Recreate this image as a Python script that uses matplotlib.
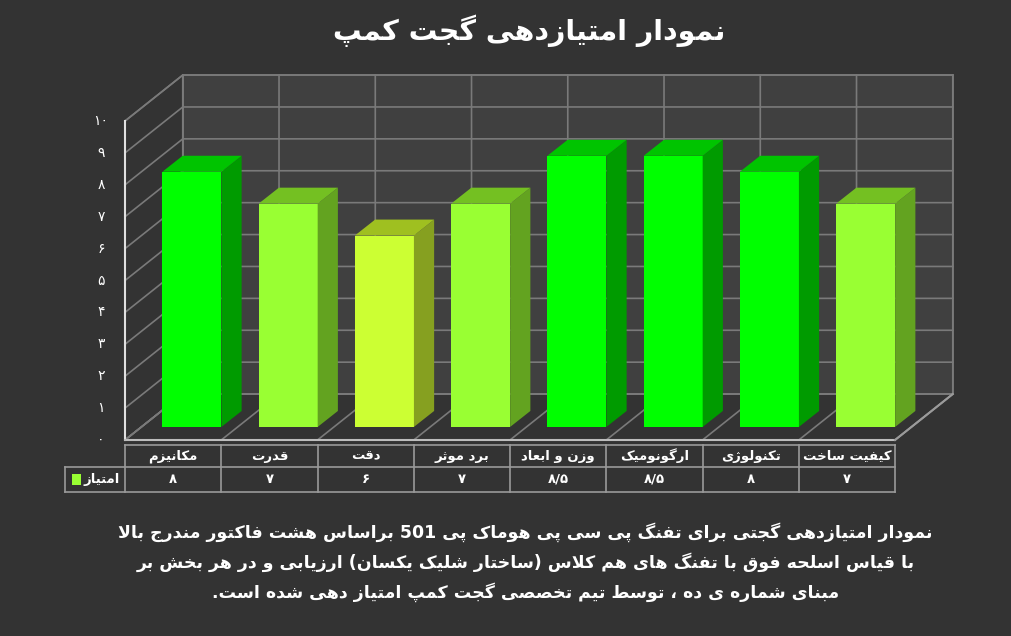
import matplotlib
matplotlib.use("Agg")
import matplotlib.pyplot as plt
from matplotlib.patches import Polygon
import re

# ---------- data ----------
categories = ["مکانیزم", "قدرت", "دقت", "برد موثر", "وزن و ابعاد", "ارگونومیک", "تکنولوژی", "کیفیت ساخت"]
values = [8, 7, 6, 7, 8.5, 8.5, 8, 7]
value_labels = ["۸", "۷", "۶", "۷", "۸/۵", "۸/۵", "۸", "۷"]
y_ticks = [0, 1, 2, 3, 4, 5, 6, 7, 8, 9, 10]
y_tick_labels = ["۰", "۱", "۲", "۳", "۴", "۵", "۶", "۷", "۸", "۹", "۱۰"]
series_name = "امتیاز"
title = "نمودار امتیازدهی گجت کمپ"
caption = ["نمودار امتیازدهی گجتی برای تفنگ پی سی پی هوماک پی 501 براساس هشت فاکتور مندرج بالا",
           "با قیاس اسلحه فوق با تفنگ های هم کلاس (ساختار شلیک یکسان) ارزیابی و در هر بخش بر",
           "مبنای شماره ی ده ، توسط تیم تخصصی گجت کمپ امتیاز دهی شده است."]

# ---------- minimal Persian shaping ----------
F = {  # iso, fin, ini, med
 'ء':(0xFE80,), 'آ':(0xFE81,0xFE82), 'أ':(0xFE83,0xFE84), 'ؤ':(0xFE85,0xFE86), 'إ':(0xFE87,0xFE88),
 'ئ':(0xFE89,0xFE8A,0xFE8B,0xFE8C), 'ا':(0xFE8D,0xFE8E), 'ب':(0xFE8F,0xFE90,0xFE91,0xFE92),
 'ة':(0xFE93,0xFE94), 'ت':(0xFE95,0xFE96,0xFE97,0xFE98), 'ث':(0xFE99,0xFE9A,0xFE9B,0xFE9C),
 'ج':(0xFE9D,0xFE9E,0xFE9F,0xFEA0), 'ح':(0xFEA1,0xFEA2,0xFEA3,0xFEA4), 'خ':(0xFEA5,0xFEA6,0xFEA7,0xFEA8),
 'د':(0xFEA9,0xFEAA), 'ذ':(0xFEAB,0xFEAC), 'ر':(0xFEAD,0xFEAE), 'ز':(0xFEAF,0xFEB0),
 'س':(0xFEB1,0xFEB2,0xFEB3,0xFEB4), 'ش':(0xFEB5,0xFEB6,0xFEB7,0xFEB8), 'ص':(0xFEB9,0xFEBA,0xFEBB,0xFEBC),
 'ض':(0xFEBD,0xFEBE,0xFEBF,0xFEC0), 'ط':(0xFEC1,0xFEC2,0xFEC3,0xFEC4), 'ظ':(0xFEC5,0xFEC6,0xFEC7,0xFEC8),
 'ع':(0xFEC9,0xFECA,0xFECB,0xFECC), 'غ':(0xFECD,0xFECE,0xFECF,0xFED0), 'ف':(0xFED1,0xFED2,0xFED3,0xFED4),
 'ق':(0xFED5,0xFED6,0xFED7,0xFED8), 'ك':(0xFED9,0xFEDA,0xFEDB,0xFEDC), 'ل':(0xFEDD,0xFEDE,0xFEDF,0xFEE0),
 'م':(0xFEE1,0xFEE2,0xFEE3,0xFEE4), 'ن':(0xFEE5,0xFEE6,0xFEE7,0xFEE8), 'ه':(0xFEE9,0xFEEA,0xFEEB,0xFEEC),
 'و':(0xFEED,0xFEEE), 'ى':(0xFEEF,0xFEF0), 'ي':(0xFEF1,0xFEF2,0xFEF3,0xFEF4),
 'پ':(0xFB56,0xFB57,0xFB58,0xFB59), 'چ':(0xFB7A,0xFB7B,0xFB7C,0xFB7D), 'ژ':(0xFB8A,0xFB8B),
 'ک':(0xFB8E,0xFB8F,0xFB90,0xFB91), 'گ':(0xFB92,0xFB93,0xFB94,0xFB95), 'ی':(0xFBFC,0xFBFD,0xFBFE,0xFBFF),
}
ALEFS = {'ا': (0xFEFB, 0xFEFC), 'آ': (0xFEF5, 0xFEF6), 'أ': (0xFEF7, 0xFEF8), 'إ': (0xFEF9, 0xFEFA)}

def dual(c):
    return c in F and len(F[c]) == 4

def shape(s):
    out = []
    i = 0
    n = len(s)
    while i < n:
        c = s[i]
        if c not in F:
            out.append(c); i += 1; continue
        prev = s[i-1] if i > 0 else ''
        jp = dual(prev)
        if c == 'ل' and i + 1 < n and s[i+1] in ALEFS:
            out.append(chr(ALEFS[s[i+1]][1 if jp else 0])); i += 2; continue
        nxt = s[i+1] if i + 1 < n else ''
        jn = dual(c) and nxt in F
        f = F[c]
        if len(f) == 1:
            k = 0
        elif jp and jn:
            k = 3
        elif jp:
            k = 1
        elif jn:
            k = 2
        else:
            k = 0
        out.append(chr(f[k])); i += 1
    r = ''.join(out)[::-1]
    r = re.sub(r'[0-9۰-۹][0-9۰-۹/]*', lambda m: m.group(0)[::-1], r)
    r = r.translate(str.maketrans('()', ')('))
    return r

plt.rcParams['font.family'] = ['DejaVu Sans']

# ---------- geometry (data units) ----------
D, DY = 0.60, 1.44           # full depth offset
BX, BY = 0.20, 0.41          # bar front offset into depth
BW = 0.613                   # bar width
SX, SY = 0.21, 0.50          # bar depth
BG = '#333333'
WALL = '#404040'
GRID = '#7a7a7a'

fig = plt.figure(figsize=(10.11, 6.36), dpi=100, facecolor=BG)
ax = fig.add_axes([0, 0, 1, 1])
ax.set_facecolor(BG)
ax.set_xlim(-1.799, 8.705)
ax.set_ylim(-6.144, 13.793)
ax.axis('off')

n = len(categories)
x0, x1 = -0.5, n - 0.5
ax.add_patch(Polygon([(x0+D, DY), (x1+D, DY), (x1+D, 10+DY), (x0+D, 10+DY)], closed=True, fc=WALL, ec=GRID, lw=1.2, zorder=1))
ax.add_patch(Polygon([(x0, 0), (x0+D, DY), (x0+D, 10+DY), (x0, 10)], closed=True, fc=BG, ec=GRID, lw=1.2, zorder=1))
ax.add_patch(Polygon([(x0, 0), (x1, 0), (x1+D, DY), (x0+D, DY)], closed=True, fc=BG, ec=GRID, lw=1.2, zorder=1))
for v in y_ticks:
    ax.plot([x0, x0+D, x1+D], [v, v+DY, v+DY], color=GRID, lw=1.2, zorder=2)
for k in range(n + 1):
    xb = x0 + k
    ax.plot([xb, xb+D, xb+D], [0, DY, 10+DY], color=GRID, lw=1.2, zorder=2)
ax.plot([x0, x0], [0, 10], color='#e0e0e0', lw=1.5, zorder=3)
ax.plot([x0, x1], [0, 0], color='#bdbdbd', lw=1.5, zorder=3)
ax.plot([x1, x1+D], [0, DY], color='#9a9a9a', lw=1.5, zorder=3)

for v, lab in zip(y_ticks, y_tick_labels):
    ax.text(x0 - 0.25, v, shape(lab), color='white', ha='center', va='center', fontsize=10)

palette = {8: ('#00ff00', '#009b00', '#00c400'),
           7: ('#99ff33', '#63a320', '#74c022'),
           6: ('#ccff33', '#86a020', '#9fc020')}
for i, v in enumerate(values):
    front, side, top = palette[int(v)]
    l = i - BW / 2 + BX - 0.005
    r = l + BW
    b = BY
    t = BY + v
    ax.add_patch(Polygon([(l, b), (r, b), (r, t), (l, t)], closed=True, fc=front, ec='none', zorder=5))
    ax.add_patch(Polygon([(r, b), (r+SX, b+SY), (r+SX, t+SY), (r, t)], closed=True, fc=side, ec='none', zorder=5))
    ax.add_patch(Polygon([(l, t), (r, t), (r+SX, t+SY), (l+SX, t+SY)], closed=True, fc=top, ec='none', zorder=5))

ty0, ty1, ty2 = -0.157, -0.846, -1.63
xl = -1.123
tc = '#9a9a9a'
ax.plot([x0, x1], [ty0, ty0], color=tc, lw=1.2, zorder=3)
ax.plot([xl, x1], [ty1, ty1], color=tc, lw=1.2, zorder=3)
ax.plot([xl, x1], [ty2, ty2], color=tc, lw=1.2, zorder=3)
ax.plot([xl, xl], [ty1, ty2], color=tc, lw=1.2, zorder=3)
for k in range(n + 1):
    ax.plot([x0 + k, x0 + k], [ty0, ty2], color=tc, lw=1.2, zorder=3)
for i, (c, vl) in enumerate(zip(categories, value_labels)):
    ax.text(i, (ty0 + ty1) / 2, shape(c), color='white', ha='center', va='center', fontsize=9.5, fontweight='bold')
    ax.text(i, (ty1 + ty2) / 2, shape(vl), color='white', ha='center', va='center', fontsize=9.5, fontweight='bold')
ax.text(-0.56, (ty1 + ty2) / 2, shape(series_name), color='white', ha='right', va='center', fontsize=9.5, fontweight='bold')
ax.add_patch(Polygon([(-1.05, -1.07), (-0.955, -1.07), (-0.955, -1.40), (-1.05, -1.40)], closed=True, fc='#99ff33', ec='none', zorder=4))

fig.text(0.523, 0.952, shape(title), color='white', ha='center', va='center', fontsize=20.5, fontweight='bold')
for j, line in enumerate(caption):
    fig.text(0.52, 0.163 - j * 0.047, shape(line), color='white', ha='center', va='center', fontsize=12.5, fontweight='bold')

fig.savefig('out.png', dpi=100, facecolor=BG)
